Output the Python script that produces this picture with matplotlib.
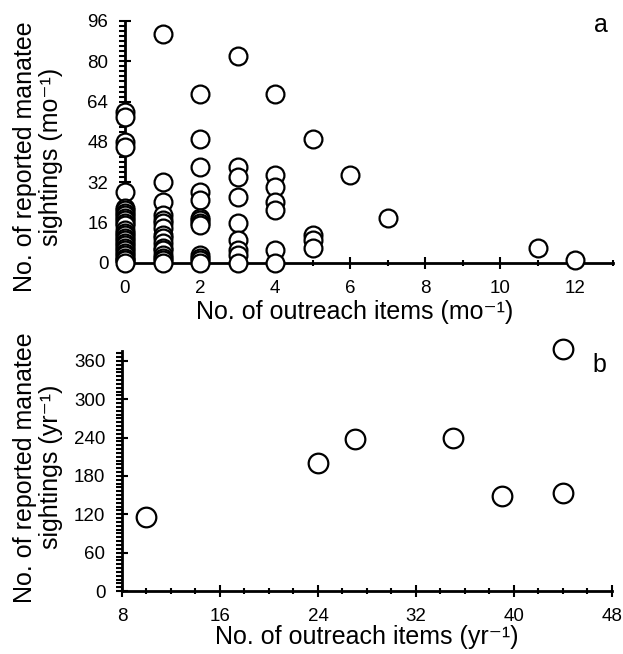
import numpy as np
import matplotlib
matplotlib.use("Agg")
import matplotlib.pyplot as plt
from matplotlib.ticker import MultipleLocator

plt.rcParams['font.family'] = ['Liberation Sans', 'DejaVu Sans']

# Panel a: monthly outreach items vs. monthly sightings
mes_x = ([0] * 28 + [1] * 16 + [2] * 13 + [3] * 9 + [4] * 7 + [5] * 4
         + [6, 7, 11, 12])
mes_y = ([60, 58, 48, 46, 28, 22, 21, 20, 19, 18, 17, 16, 15, 13, 12, 11,
          10, 9, 8, 7, 6, 5, 4, 3, 2, 1, 1, 0]
         + [91, 32, 24, 19, 17, 16, 14, 11, 10, 8, 6, 5, 3, 2, 1, 0]
         + [67, 49, 38, 28, 25, 18, 17, 16, 15, 3, 2, 1, 0]
         + [82, 38, 34, 26, 16, 9, 5, 3, 0]
         + [67, 35, 30, 24, 21, 5, 0]
         + [49, 11, 9, 6]
         + [35, 18, 6, 1])

# Panel b: yearly outreach items vs. yearly sightings
anio_x = [10, 24, 27, 35, 39, 44, 44]
anio_y = [116, 200, 238, 239, 149, 153, 378]

fig = plt.figure(figsize=(6.23, 6.54), dpi=100)
ax_a = fig.add_axes([0.2006, 0.5979, 0.7833, 0.370])
ax_b = fig.add_axes([0.1958, 0.0963, 0.7865, 0.3675])


def estilo(ax):
    for s in ['top', 'right']:
        ax.spines[s].set_visible(False)
    for s in ['left', 'bottom']:
        ax.spines[s].set_linewidth(2)
    ax.tick_params(which='major', direction='inout', length=8, width=1.5,
                   labelsize=13.5, pad=8)
    ax.tick_params(which='minor', direction='inout', length=5, width=1.5)
    ax.tick_params(axis='y', which='minor', direction='out', length=4)


# --- panel a
ax_a.scatter(mes_x, mes_y, s=165, facecolors='white', edgecolors='black',
             linewidths=1.6, clip_on=False, zorder=3)
ax_a.set_xlim(0, 13)
ax_a.set_ylim(0, 96)
ax_a.xaxis.set_major_locator(MultipleLocator(2))
ax_a.xaxis.set_minor_locator(MultipleLocator(1))
ax_a.yaxis.set_major_locator(MultipleLocator(16))
ax_a.yaxis.set_minor_locator(MultipleLocator(2))
estilo(ax_a)
ax_a.set_xlabel('No. of outreach items (mo\u207b\u00b9)', fontsize=18)
ax_a.xaxis.set_label_coords(0.471, -0.153)
ax_a.set_ylabel('No. of reported manatee\nsightings (mo\u207b\u00b9)', fontsize=18,
                linespacing=1.1)
ax_a.yaxis.set_label_coords(-0.127, 0.44)
ax_a.text(0.975, 0.985, 'a', transform=ax_a.transAxes, fontsize=18,
          ha='center', va='center')

# --- panel b
ax_b.scatter(anio_x, anio_y, s=200, facecolors='white', edgecolors='black',
             linewidths=1.6, clip_on=False, zorder=3)
ax_b.set_xlim(8, 48)
ax_b.set_ylim(0, 376)
ax_b.xaxis.set_major_locator(MultipleLocator(8))
ax_b.xaxis.set_minor_locator(MultipleLocator(2))
ax_b.yaxis.set_major_locator(MultipleLocator(60))
ax_b.yaxis.set_minor_locator(MultipleLocator(6))
estilo(ax_b)
ax_b.set_xlabel('No. of outreach items (yr\u207b\u00b9)', fontsize=18)
ax_b.xaxis.set_label_coords(0.5, -0.142)
ax_b.set_ylabel('No. of reported manatee\nsightings (yr\u207b\u00b9)', fontsize=18,
                linespacing=1.1)
ax_b.yaxis.set_label_coords(-0.12, 0.515)
ax_b.text(0.975, 0.94, 'b', transform=ax_b.transAxes, fontsize=18,
          ha='center', va='center')

fig.savefig('out.png', dpi=100)
